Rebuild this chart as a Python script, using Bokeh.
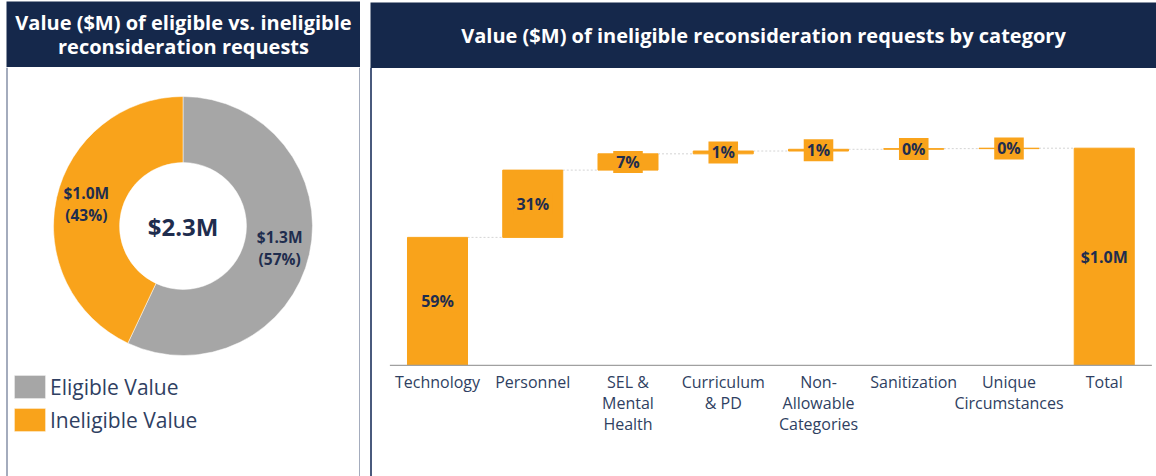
import numpy as np
from bokeh.plotting import figure
from bokeh.models import Range1d, FixedTicker, Span, Legend, LegendItem, Div, ColumnDataSource
from bokeh.layouts import row, column
from bokeh.core.properties import value
from bokeh.embed import file_html
from bokeh.resources import INLINE

NAVY = "#15284b"
ORANGE = "#f9a31b"
GRAY = "#a6a6a6"
TEXT = "#1f2d4e"
LABEL = "#2f3f62"
BORDER = "#4a5a7d"
FONT = "Open Sans"

# ---------------- data ----------------
left_title = "Value ($M) of eligible vs. ineligible\nreconsideration requests"
right_title = "Value ($M) of ineligible reconsideration requests by category"

donut_names = ["Eligible Value", "Ineligible Value"]
donut_values = [1.3, 1.0]          # $M
donut_pcts = [57, 43]              # share of total, %
donut_labels = ["$1.3M\n(57%)", "$1.0M\n(43%)"]
donut_total_label = "$2.3M"
donut_colors = [GRAY, ORANGE]

categories = ["Technology", "Personnel", "SEL & Mental Health", "Curriculum & PD",
              "Non-Allowable Categories", "Sanitization", "Unique Circumstances", "Total"]
tick_labels = ["Technology", "Personnel", "SEL &\nMental\nHealth", "Curriculum\n& PD",
               "Non-\nAllowable\nCategories", "Sanitization", "Unique\nCircumstances", "Total"]
step_values = [0.59, 0.31, 0.075, 0.013, 0.008, 0.003, 0.002]   # $M
step_labels = ["59%", "31%", "7%", "1%", "1%", "0%", "0%"]
total_label = "$1.0M"


def header(text, w, h):
    p = figure(width=w, height=h, x_range=Range1d(-1, 1), y_range=Range1d(-1, 1),
               x_axis_type=None, y_axis_type=None, toolbar_location=None,
               output_backend="svg", min_border=0, background_fill_color=NAVY,
               border_fill_color=NAVY, outline_line_color=None)
    p.text(x=[0], y=[0], text=[text], text_align="center", text_baseline="middle",
           text_color="white", text_font=value(FONT), text_font_style="bold",
           text_font_size="20px", text_line_height=0.92)
    return p


# ---------------- donut ----------------
S = 129.5
LW, LH = 354, 409
cxp, cyp = 176.5, 158.5
left = figure(width=LW, height=LH, x_range=Range1d(-cxp / S, (LW - cxp) / S),
              y_range=Range1d(-(LH - cyp) / S, cyp / S), x_axis_type=None, y_axis_type=None,
              toolbar_location=None, output_backend="svg", min_border=0,
              outline_line_color=None)

frac = np.array(donut_pcts) / 100.0
cum = np.cumsum(frac)
starts = np.pi / 2 - 2 * np.pi * (cum - frac)
ends = np.pi / 2 - 2 * np.pi * cum
mids = (starts + ends) / 2

items = []
for i in range(len(donut_names)):
    r = left.annular_wedge(x=0, y=0, inner_radius=0.49, outer_radius=1.0,
                           start_angle=starts[i], end_angle=ends[i], direction="clock",
                           fill_color=donut_colors[i], line_color="white", line_width=0.5)
    items.append(LegendItem(label=donut_names[i], renderers=[r]))

left.text(x=list(0.765 * np.cos(mids)), y=list(0.765 * np.sin(mids)), text=donut_labels,
          text_align="center", text_baseline="middle", text_color=TEXT,
          text_font=value(FONT), text_font_style="bold", text_font_size="15.5px",
          text_line_height=1.0)
left.text(x=[0], y=[0], text=[donut_total_label], text_align="center", text_baseline="middle",
          text_color=TEXT, text_font=value(FONT), text_font_style="bold", text_font_size="24px")

legend = Legend(items=items, location=(4, 42), orientation="vertical", glyph_width=39,
                glyph_height=29, label_height=29, spacing=4, padding=0, margin=0,
                border_line_color=None, background_fill_alpha=0, label_text_font=FONT,
                label_text_font_size="21px", label_text_color=LABEL, label_standoff=1)
left.add_layout(legend)
left.add_layout(Span(location=left.x_range.start, dimension="height", line_color=BORDER, line_width=2))
left.add_layout(Span(location=left.x_range.end, dimension="height", line_color=BORDER, line_width=2))

# ---------------- waterfall ----------------
PXX, PXY = 95.25, 217.0
RW, RH = 784, 408
TOPB, BOTB = 15, 110
x0 = -65 / PXX
y0 = -0.005
frame_h = RH - TOPB - BOTB
right = figure(width=RW, height=RH, x_range=Range1d(x0, x0 + RW / PXX),
               y_range=Range1d(y0, y0 + frame_h / PXY), y_axis_type=None,
               toolbar_location=None, output_backend="svg", min_border_left=0,
               min_border_right=0, min_border_top=TOPB, min_border_bottom=BOTB,
               outline_line_color=None)
right.xgrid.visible = False
right.ygrid.visible = False

xs = list(range(len(categories)))
cumv = np.cumsum(step_values)
bottoms = list(cumv - np.array(step_values)) + [0.0]
tops = list(cumv) + [float(cumv[-1])]
mids_y = [(b + t) / 2 for b, t in zip(bottoms, tops)]
src = ColumnDataSource(dict(x=xs, bottom=bottoms, top=tops, mid=mids_y,
                            label=step_labels + [total_label]))

W = 0.63
n = len(step_values)
right.segment(x0=[i + W / 2 for i in range(n)], x1=[i + 1 - W / 2 for i in range(n)],
              y0=tops[:n], y1=tops[:n], line_color="#d4d4d4", line_width=1, line_dash="2 2")
right.vbar(x="x", bottom="bottom", top="top", width=W, source=src, fill_color=ORANGE,
           line_color=ORANGE, line_width=1)
right.segment(x0=[-0.5], x1=[len(categories) - 0.5], y0=[0], y1=[0], line_color="#a0a0a0",
              line_width=1.2)
right.text(x="x", y="mid", text="label", source=src, text_align="center",
           text_baseline="middle", text_color=TEXT, text_font=value(FONT),
           text_font_style="bold", text_font_size="16px", background_fill_color=ORANGE,
           padding=dict(left=3, right=3, top=0, bottom=0))

ax = right.xaxis[0]
ax.ticker = FixedTicker(ticks=xs)
ax.major_label_overrides = {i: t for i, t in zip(xs, tick_labels)}
ax.axis_line_color = None
ax.major_tick_line_color = None
ax.minor_tick_line_color = None
ax.major_tick_in = 0
ax.major_tick_out = 0
ax.major_label_standoff = 4
ax.major_label_text_font = FONT
ax.major_label_text_font_size = "16px"
ax.major_label_text_color = LABEL
ax.major_label_text_line_height = 0.97

left_col = column(header(left_title, LW, 66), left, spacing=0)
right_col = column(header(right_title, RW + 2, 66),
                   row(Div(text="", width=2, height=RH, margin=0,
                           styles={"background-color": BORDER}),
                       right, spacing=0),
                   spacing=0, margin=(1, 0, 0, 0))
page = row(left_col, right_col, spacing=10, margin=(1, 0, -10, 6))

open("out.html", "w").write(file_html(page, INLINE))
